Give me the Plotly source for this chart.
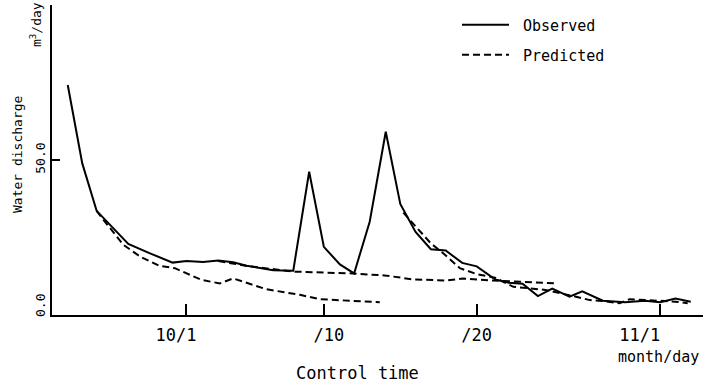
import plotly.graph_objects as go

# ---- data (day number: Oct 1 = 1, Nov 1 = 32) ----
obs_day = [-6.75, -5.8, -4.86, -2.79, -1.37, 0.11, 1.02, 2.1, 3.09, 4.07, 4.95, 6.69, 8.0,
           9.04, 10.0, 11.05, 11.98, 13.0, 14.05, 15.0, 16.0, 17.0, 17.97, 19.05, 20.0,
           21.2, 22.1, 23.0, 24.0, 24.94, 26.07, 26.9, 28.25, 29.7, 31.0, 32.0, 33.0, 34.0]
obs_q = [74.2, 48.9, 33.6, 22.9, 19.9, 16.9, 17.4, 17.1, 17.6, 17.0, 15.9, 14.4, 14.3,
         46.2, 22.0, 16.3, 13.4, 30.1, 59.1, 35.8, 26.8, 21.2, 20.8, 16.8, 15.7,
         11.5, 10.4, 10.1, 6.1, 8.5, 5.9, 7.6, 4.6, 4.1, 4.6, 4.1, 5.3, 4.3]

pred_a_day = [-4.86, -4.5, -3.1, -2.0, -0.72, 0.26, 2.0, 3.2, 4.07, 6.25, 8.43, 9.74, 13.66]
pred_a_q = [33.6, 31.2, 22.6, 18.8, 15.8, 15.1, 11.3, 10.2, 11.8, 8.3, 6.5, 5.1, 4.1]

pred_b_day = [3.1, 5.0, 8.0, 11.9, 14.1, 15.8, 18.0, 19.1, 21.1, 23.0, 25.2]
pred_b_q = [17.4, 15.8, 14.0, 13.4, 12.7, 11.5, 11.1, 11.8, 11.1, 10.6, 10.2]

pred_c_day = [15.2, 17.0, 17.7, 18.9, 20.0, 21.2, 22.4, 24.5, 26.5, 27.4, 28.2, 29.35,
              30.0, 31.5, 33.0, 33.8]
pred_c_q = [33.0, 23.1, 20.4, 15.1, 13.2, 12.0, 9.1, 8.1, 5.9, 4.8, 4.5, 3.8,
            5.1, 4.8, 4.3, 3.8]

x_tick_days = [1, 10, 20, 32]
x_tick_text = ["10/1\u00a0\u00a0", "\u00a0/10", "/20", "11/1\u00a0\u00a0\u00a0\u00a0"]
y_tick_vals = [0, 50]
y_tick_text = ["\u00a0\u00a00.0", "50.0"]

FONT = "DejaVu Sans Mono"
BLACK = "black"

fig = go.Figure()
fig.add_trace(go.Scatter(x=obs_day, y=obs_q, mode="lines", name="\u00a0Observed",
                         line=dict(color=BLACK, width=2), legend="legend", showlegend=True))
pred_sets = [(pred_a_day, pred_a_q), (pred_b_day, pred_b_q), (pred_c_day, pred_c_q)]
for i, (xd, yd) in enumerate(pred_sets):
    fig.add_trace(go.Scatter(x=xd, y=yd, mode="lines", name="\u00a0Predicted",
                             line=dict(color=BLACK, width=2, dash="7px,4px"),
                             legend="legend2", legendgroup="pred", showlegend=(i == 0)))

W, H = 705, 383
L, R, T, B = 52, 2, 5, 68
pw, ph = W - L - R, H - T - B

def px_x(p):
    return (p - L) / pw

def px_y(p):
    return (H - B - p) / ph

leg_common = dict(xref="paper", yref="paper", xanchor="left", yanchor="middle",
                  font=dict(family=FONT, size=15, color=BLACK), bgcolor="rgba(0,0,0,0)",
                  borderwidth=0, itemwidth=47, visible=True)

fig.update_layout(
    width=W, height=H,
    showlegend=True,
    margin=dict(l=L, r=R, t=T, b=B, autoexpand=False),
    paper_bgcolor="white", plot_bgcolor="white",
    font=dict(family=FONT, color=BLACK),
    legend=dict(x=px_x(457), y=px_y(25), **leg_common),
    legend2=dict(x=px_x(457), y=px_y(55), **leg_common),
    xaxis=dict(range=[-7.78, 34.8], showline=True, linecolor=BLACK, linewidth=2,
               ticks="inside", ticklen=11, tickwidth=1.5, tickcolor=BLACK,
               tickvals=x_tick_days, ticktext=x_tick_text, showgrid=False, zeroline=False,
               tickfont=dict(family=FONT, size=17, color=BLACK), ticklabelstandoff=4,
               automargin=False),
    yaxis=dict(range=[0, 100], showline=True, linecolor=BLACK, linewidth=2,
               ticks="inside", ticklen=8, tickwidth=1.5, tickcolor=BLACK,
               tickvals=y_tick_vals, ticktext=y_tick_text, tickangle=-90,
               showgrid=False, zeroline=False, automargin=False,
               tickfont=dict(family=FONT, size=13, color=BLACK)),
    annotations=[
        dict(text="Water discharge", x=px_x(18), y=px_y(154), xref="paper", yref="paper",
             textangle=-90, showarrow=False, xanchor="center", yanchor="middle",
             font=dict(family=FONT, size=13, color=BLACK)),
        dict(text="m<sup>3</sup>/day", x=px_x(36), y=px_y(25), xref="paper", yref="paper",
             textangle=-90, showarrow=False, xanchor="center", yanchor="middle",
             font=dict(family=FONT, size=13, color=BLACK)),
        dict(text="Control time", x=px_x(357), y=px_y(373), xref="paper", yref="paper",
             showarrow=False, xanchor="center", yanchor="middle",
             font=dict(family=FONT, size=17, color=BLACK)),
        dict(text="month/day", x=px_x(658), y=px_y(357), xref="paper", yref="paper",
             showarrow=False, xanchor="center", yanchor="middle",
             font=dict(family=FONT, size=15, color=BLACK)),
    ],
)

fig.write_html("out.html")
